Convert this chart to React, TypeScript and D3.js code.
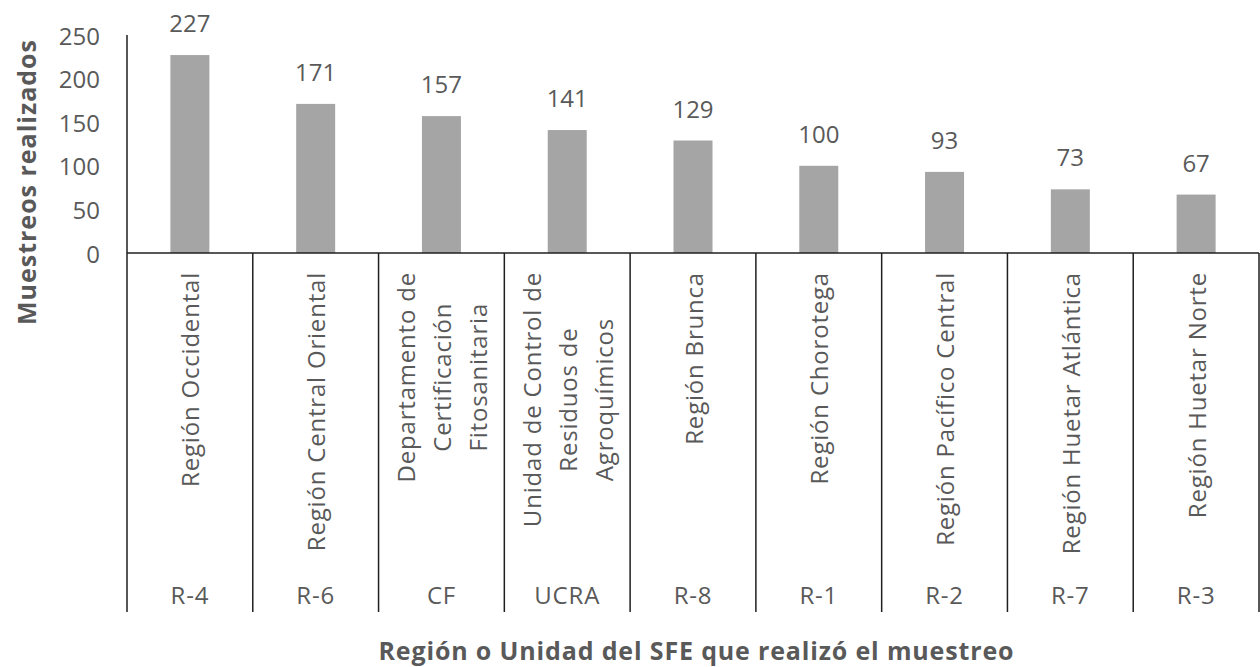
import * as d3 from "d3"

// datos
const codes = ["R-4", "R-6", "CF", "UCRA", "R-8", "R-1", "R-2", "R-7", "R-3"]
const names = [
    ["Región Occidental"],
    ["Región Central Oriental"],
    ["Departamento de", "Certificación", "Fitosanitaria"],
    ["Unidad de Control de", "Residuos de", "Agroquímicos"],
    ["Región Brunca"],
    ["Región Chorotega"],
    ["Región Pacífico Central"],
    ["Región Huetar Atlántica"],
    ["Región Huetar Norte"],
]
const values = [227, 171, 157, 141, 129, 100, 93, 73, 67]
const yTicks = [0, 50, 100, 150, 200, 250]

const yTitle = "Muestreos realizados"
const xTitle = "Región o Unidad del SFE que realizó el muestreo"

const W = 1260
const H = 667
const textColor = "#595959"
const lineColor = "#1f1f1f"
const barColor = "#a5a5a5"
const FONT = "'Open Sans', 'Noto Sans', sans-serif"
const fs = 24
const ls = 0.8 // espaciado de letras en las categorías

let ctx: CanvasRenderingContext2D | null = null
function measure(t: string) {
    if (!ctx) ctx = document.createElement("canvas").getContext("2d")
    if (!ctx) return t.length * (fs * 0.5 + ls)
    ctx.font = `${fs}px 'Open Sans'`
    return ctx.measureText(t).width + t.length * ls
}

export default function App() {
    const left = 127
    const right = 1259
    const base = 253
    const catBottom = 612

    const x = d3.scaleBand<string>().domain(codes).range([left, right]).padding(0)
    const y = d3.scaleLinear().domain([0, 250]).range([base, 35])
    const barW = x.bandwidth() * 0.31

    const labelTop = 272
    const lineGap = 36

    return (
        <svg
            width={W}
            height={H}
            style={{ display: "block", position: "absolute", left: 0, top: 0 }}
            fontFamily={FONT}
        >
            <rect width={W} height={H} fill="#fff" />

            {/* eje Y */}
            {yTicks.map((t) => (
                <text
                    key={t}
                    x={100}
                    y={y(t)}
                    textAnchor="end"
                    dominantBaseline="central"
                    fontSize={fs}
                    fill={textColor}
                >
                    {t}
                </text>
            ))}
            <line x1={left} x2={left} y1={y(250)} y2={base} stroke={lineColor} strokeWidth={1.5} />

            {/* barras */}
            {values.map((v, i) => {
                const cx = (x(codes[i]) ?? 0) + x.bandwidth() / 2
                return (
                    <g key={codes[i]}>
                        <rect x={cx - barW / 2} y={y(v)} width={barW} height={base - y(v)} fill={barColor} />
                        <text
                            x={cx}
                            y={y(v) - 23}
                            textAnchor="middle"
                            fontSize={fs}
                            fill={textColor}
                        >
                            {v}
                        </text>
                    </g>
                )
            })}

            {/* eje X multinivel */}
            <line x1={left} x2={right} y1={base} y2={base} stroke={lineColor} strokeWidth={1.5} />
            {[...codes.map((c) => x(c) ?? 0), right].map((xx, i) => (
                <line key={i} x1={xx} x2={xx} y1={base} y2={catBottom} stroke={lineColor} strokeWidth={1.5} />
            ))}
            {codes.map((c, i) => {
                const cx = (x(c) ?? 0) + x.bandwidth() / 2
                const lines = names[i]
                const maxW = d3.max(lines, (l) => measure(l)) ?? 0
                const yc = labelTop + maxW / 2
                return (
                    <g key={c}>
                        {lines.map((l, j) => {
                            const lx = cx + (j - (lines.length - 1) / 2) * lineGap
                            return (
                                <text
                                    key={j}
                                    transform={`translate(${lx},${yc}) rotate(-90)`}
                                    textAnchor="middle"
                                    dominantBaseline="central"
                                    fontSize={fs}
                                    letterSpacing={ls}
                                    fill={textColor}
                                >
                                    {l}
                                </text>
                            )
                        })}
                        <text
                            x={cx}
                            y={594}
                            textAnchor="middle"
                            dominantBaseline="central"
                            fontSize={fs}
                            letterSpacing={ls}
                            fill={textColor}
                        >
                            {c}
                        </text>
                    </g>
                )
            })}

            {/* títulos */}
            <text
                transform={`translate(26,${(40 + 325) / 2}) rotate(-90)`}
                textAnchor="middle"
                dominantBaseline="central"
                fontWeight="bold"
                fontSize={25}
                textLength={285}
                lengthAdjust="spacing"
                fill={textColor}
            >
                {yTitle}
            </text>
            <text
                x={696}
                y={650}
                textAnchor="middle"
                dominantBaseline="central"
                fontWeight="bold"
                fontSize={25}
                textLength={635}
                lengthAdjust="spacing"
                fill={textColor}
            >
                {xTitle}
            </text>
        </svg>
    )
}
